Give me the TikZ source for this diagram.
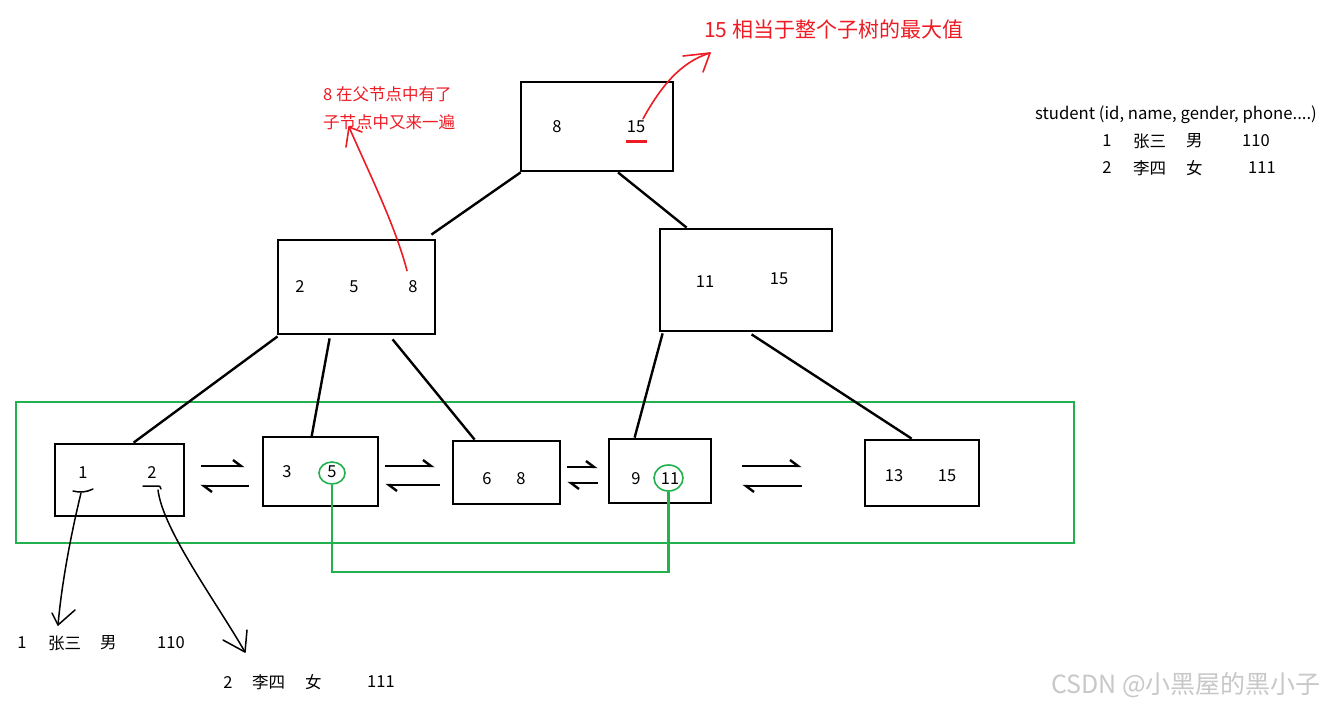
\documentclass[tikz,border=0pt]{standalone}
\usepackage{fontspec}
\setmainfont{Noto Sans CJK SC}
\usetikzlibrary{arrows.meta,calc,shapes.geometric}
\definecolor{pred}{RGB}{237,28,36}
\definecolor{pgreen}{RGB}{34,177,76}
\definecolor{wmark}{RGB}{200,200,200}
\begin{document}
\begin{tikzpicture}[x=1pt,y=-1pt,
  box/.style={draw=black,line width=2.8pt,inner sep=0pt,rectangle},
  t/.style={inner sep=0pt,font=\fontsize{16.5}{19}\selectfont},
  rt/.style={t,text=pred,anchor=west},
  edge/.style={draw=black,line width=2.4pt},
  harp/.style={draw=black,line width=2.4pt,-{Straight Barb[left,length=8pt,width=12pt]}},
  hand/.style={draw=black,line width=1.5pt,line cap=round,line join=round},
  redpen/.style={draw=pred,line width=1.6pt,line cap=round,line join=round},
  gline/.style={draw=pgreen,line width=2.4pt},
  gcirc/.style={draw=pgreen,line width=1.6pt,ellipse,inner sep=0pt}]
\fill[white] (0,0) rectangle (1329,707);
\useasboundingbox (0,0) rectangle (1329,707);

% green group frame
\node[draw=pgreen,line width=2.6pt,inner sep=0pt,minimum width=1058,minimum height=141] (grp) at (545,472.5) {};

% boxes
\node[box,minimum width=152,minimum height=89] (root) at (597,126.5) {};
\node[box,minimum width=157,minimum height=94] (L) at (356.5,287) {};
\node[box,minimum width=172,minimum height=102] (R) at (746,280) {};
\node[box,minimum width=129,minimum height=72] (leaf1) at (119.5,480) {};
\node[box,minimum width=115,minimum height=69] (leaf2) at (320.5,471.5) {};
\node[box,minimum width=107,minimum height=63] (leaf3) at (506.5,472.5) {};
\node[box,minimum width=102,minimum height=64] (leaf4) at (660,471) {};
\node[box,minimum width=114,minimum height=66] (leaf5) at (922,473) {};

% keys
\node[t] (r8) at (557,127) {8};
\node[t] (r15) at (636,127) {15};
\node[t] (l2) at (300,287) {2};
\node[t] (l5) at (354,287) {5};
\node[t] (l8) at (413,287) {8};
\node[t] (r11) at (705,282) {11};
\node[t] (rr15) at (779,279) {15};
\node[t] (k1) at (83,473) {1};
\node[t] (k2) at (152,473) {2};
\node[t] (k3) at (287,472) {3};
\node[t] (k5) at (332,472) {5};
\node[t] (k6) at (487,479) {6};
\node[t] (k8) at (521,479) {8};
\node[t] (k9) at (636,479) {9};
\node[t] (k11) at (670,479) {11};
\node[t] (k13) at (894,476) {13};
\node[t] (k15) at (947,476) {15};

% tree edges
\draw[edge] ($(root.south west)+(1,0)$) -- ($(L.north east)+(-5,-4)$);
\draw[edge] ($(root.south)+(21,0)$) -- ($(R.north west)+(28,0)$);
\draw[edge] ($(L.south west)+(1,1)$) -- ($(leaf1.north west)+(80,0)$);
\draw[edge] ($(L.south west)+(53,3)$) -- ($(leaf2.north west)+(50,1)$);
\draw[edge] ($(L.south west)+(116,4)$) -- ($(leaf3.north west)+(23,0)$);
\draw[edge] ($(R.south west)+(4,1)$) -- ($(leaf4.north west)+(27,0)$);
\draw[edge] ($(R.south west)+(93,2)$) -- ($(leaf5.north west)+(48,0)$);

% leaf links
\draw[harp] ($(leaf1.east)+(16,-14)$) -- ($(leaf2.west)+(-17,-5.5)$);
\draw[harp] ($(leaf2.west)+(-13,14.5)$) -- ($(leaf1.east)+(15,6)$);
\draw[harp] ($(leaf2.east)+(6,-5.5)$) -- ($(leaf3.west)+(-17,-6.5)$);
\draw[harp] ($(leaf3.west)+(-12,12.5)$) -- ($(leaf2.east)+(6,13.5)$);
\draw[harp] ($(leaf3.east)+(6,-5.5)$) -- ($(leaf4.west)+(-10,-4)$);
\draw[harp] ($(leaf4.west)+(-10,12)$) -- ($(leaf3.east)+(6,10.5)$);
\draw[harp] ($(leaf4.east)+(30,-5)$) -- ($(leaf5.west)+(-62,-7)$);
\draw[harp] ($(leaf5.west)+(-62,13)$) -- ($(leaf4.east)+(30,15)$);

% green circles and connector
\node[gcirc,minimum width=26,minimum height=22] (c5) at (332,473) {};
\node[gcirc,minimum width=29,minimum height=26] (c11) at (668.5,478) {};
\coordinate (gb) at (0,572);
\draw[gline] (c5.south) -- (c5.south |- gb) -- (c11.south |- gb) -- (c11.south);

% red annotations
\draw[draw=pred,line width=3pt] (626,141) -- (647,141);
\node[t,text=pred,anchor=west,font=\fontsize{21}{25}\selectfont] (title) at (704,29) {15 相当于整个子树的最大值};
\node[rt] (note1) at (323,94) {8 在父节点中有了};
\node[rt] (note2) at (323,122) {子节点中又来一遍};
\draw[redpen] (l8.north) ++(-6,-10) .. controls (395,225) and (370,175) .. (349,127);
\draw[redpen] (346,147) -- (349,127) -- (362,132);
\draw[redpen] ($(r15.north)+(7,-2)$) .. controls (660,88) and (680,62) .. (710,53);
\draw[redpen] (683,56) -- (710,53) -- (703,72);

% student table (top right)
\node[t,anchor=west,font=\fontsize{16.7}{19}\selectfont] (stu) at (1035,115) {student (id, name, gender, phone....)};
\node[t] (s1id) at (1107,141) {1};
\node[t,anchor=west] (s1n) at (1133,141) {张三};
\node[t,anchor=west] (s1g) at (1186,141) {男};
\node[t,anchor=west] (s1p) at (1242,141) {110};
\node[t] (s2id) at (1107,168) {2};
\node[t,anchor=west] (s2n) at (1133,168) {李四};
\node[t,anchor=west] (s2g) at (1186,168) {女};
\node[t,anchor=west] (s2p) at (1248,168) {111};

% rows below
\node[t] (b1id) at (22,643) {1};
\node[t,anchor=west] (b1n) at (48,643) {张三};
\node[t,anchor=west] (b1g) at (100,643) {男};
\node[t,anchor=west] (b1p) at (157,643) {110};
\node[t] (b2id) at (228,682) {2};
\node[t,anchor=west] (b2n) at (252,682) {李四};
\node[t,anchor=west] (b2g) at (305,682) {女};
\node[t,anchor=west] (b2p) at (367,682) {111};

% hand-drawn pointers from leaf keys to rows
\draw[hand] (73,491) .. controls (80,493) and (87,492) .. (93,489);
\draw[hand] (143,486) -- (158,486) .. controls (160,486) .. (161,489);
\draw[hand] (81,493) .. controls (72,530) and (62,580) .. (58,625);
\draw[hand] (52,613) -- (58,625) -- (75,610);
\draw[hand] (158,490) .. controls (163,530) and (215,600) .. (245,652);
\draw[hand] (223,640) -- (245,652) -- (247,630);

% watermark
\node[inner sep=0pt,anchor=west,text=wmark,font=\fontsize{25}{29}\selectfont] (wm) at (1051,685) {CSDN @小黑屋的黑小子};
\end{tikzpicture}
\end{document}
